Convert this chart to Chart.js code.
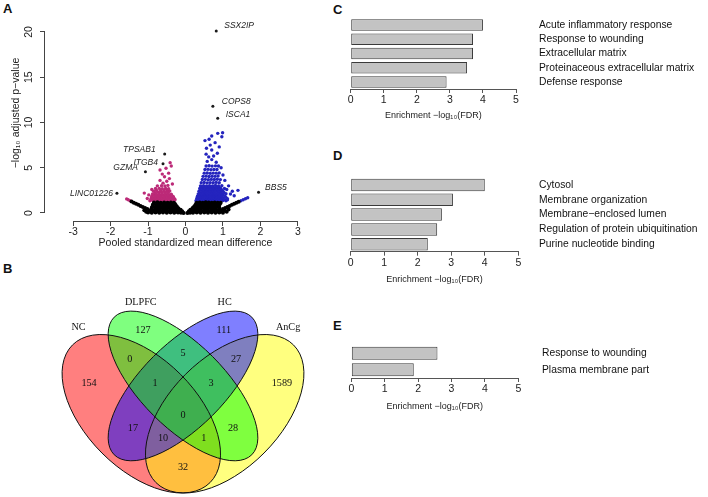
<!DOCTYPE html>
<html>
<head>
<meta charset="utf-8">
<script src="https://cdn.jsdelivr.net/npm/chart.js@4.4.1/dist/chart.umd.min.js"></script>
<style>
  body { margin: 0; background: #fff; width: 708px; height: 497px; position: relative; overflow: hidden; }
  .box { position: absolute; }
  .tag { position: absolute; font: bold 13px "Liberation Sans", Arial, sans-serif; line-height: 13px; color: #111; }
</style>
</head>
<body>
<div class="tag" style="left:3px;top:2px">A</div>
<div class="tag" style="left:3px;top:262px">B</div>
<div class="tag" style="left:333px;top:3px">C</div>
<div class="tag" style="left:333px;top:149px">D</div>
<div class="tag" style="left:333px;top:319px">E</div>

<div class="box" style="left:0;top:0"><canvas id="volcano" width="330" height="252"></canvas></div>
<div class="box" style="left:0;top:280px"><canvas id="venn" width="330" height="217"></canvas></div>
<div class="box" style="left:330px;top:0"><canvas id="goC" width="378" height="125"></canvas></div>
<div class="box" style="left:330px;top:130px"><canvas id="goD" width="378" height="160"></canvas></div>
<div class="box" style="left:330px;top:300px"><canvas id="goE" width="378" height="120"></canvas></div>

<script>
const SANS = '"Liberation Sans", Arial, sans-serif';
const SERIF = '"Liberation Serif", "Times New Roman", serif';
Chart.defaults.font.family = SANS;
Chart.defaults.color = '#222';

// ---- panel A: volcano (pooled SMD vs -log10 adjusted p) ----
const volcanoXTicks = [-3, -2, -1, 0, 1, 2, 3];
const volcanoYTicks = [0, 5, 10, 15, 20];

// not significant (black)
const nsPoints = [
  [-1.0,0.05],[-0.9,0.04],[-0.8,0.06],[-0.7,0.03],[-0.6,0.05],[-0.5,0.04],[-0.4,0.06],[-0.3,0.03],[-0.2,0.05],[-0.12,0.02],[-0.05,0.01],
  [0.05,0.01],[0.12,0.03],[0.2,0.04],[0.3,0.05],[0.4,0.03],[0.5,0.06],[0.6,0.04],[0.7,0.05],[0.8,0.03],[0.9,0.05],[1.0,0.04],
  [-0.95,0.17],[-0.85,0.18],[-0.75,0.16],[-0.65,0.17],[-0.55,0.18],[-0.45,0.16],[-0.35,0.17],[-0.08,0.09],
  [0.08,0.09],[0.35,0.17],[0.45,0.18],[0.55,0.16],[0.65,0.17],[0.75,0.18],[0.85,0.16],[0.95,0.17],
  [-0.95,0.3],[-0.86,0.28],[-0.77,0.32],[-0.68,0.27],[-0.59,0.31],[-0.5,0.29],[-0.41,0.3],[-0.32,0.28],[-0.24,0.27],[-0.16,0.25],[-0.09,0.18],
  [0.09,0.2],[0.16,0.26],[0.24,0.28],[0.32,0.3],[0.41,0.27],[0.5,0.31],[0.59,0.29],[0.68,0.3],[0.77,0.28],[0.86,0.31],[0.95,0.3],
  [-0.9,0.45],[-0.8,0.46],[-0.7,0.44],[-0.6,0.45],[-0.5,0.46],[-0.4,0.44],[-0.31,0.45],[-0.22,0.42],[-0.13,0.36],
  [0.13,0.36],[0.22,0.42],[0.31,0.45],[0.4,0.44],[0.5,0.46],[0.6,0.45],[0.7,0.44],[0.8,0.46],[0.9,0.45],
  [-0.9,0.58],[-0.81,0.62],[-0.72,0.6],[-0.63,0.57],[-0.54,0.61],[-0.45,0.59],[-0.36,0.6],[-0.27,0.58],[-0.19,0.52],
  [0.19,0.55],[0.27,0.6],[0.36,0.58],[0.45,0.62],[0.54,0.59],[0.63,0.6],[0.72,0.57],[0.81,0.61],[0.9,0.6],
  [-0.88,0.75],[-0.78,0.76],[-0.68,0.74],[-0.58,0.75],[-0.49,0.76],[-0.4,0.74],[-0.31,0.75],[-0.23,0.72],
  [0.23,0.72],[0.31,0.75],[0.4,0.74],[0.49,0.76],[0.58,0.75],[0.68,0.74],[0.78,0.76],[0.88,0.75],
  [-0.87,0.9],[-0.78,0.88],[-0.69,0.92],[-0.6,0.89],[-0.51,0.91],[-0.42,0.88],[-0.33,0.9],[-0.26,0.85],
  [0.26,0.86],[0.34,0.9],[0.42,0.88],[0.5,0.92],[0.58,0.89],[0.66,0.91],[0.74,0.88],[0.82,0.9],[0.9,0.87],
  [-0.85,1.03],[-0.75,1.04],[-0.65,1.02],[-0.55,1.03],[-0.45,1.04],[-0.36,1.02],[-0.28,1.0],
  [0.28,1.0],[0.36,1.02],[0.45,1.04],[0.55,1.03],[0.65,1.02],[0.75,1.04],[0.85,1.03],[0.92,1.02],
  [-0.84,1.15],[-0.75,1.18],[-0.66,1.13],[-0.57,1.17],[-0.48,1.14],[-0.39,1.16],[-0.31,1.12],
  [0.3,1.13],[0.38,1.17],[0.46,1.14],[0.54,1.18],[0.62,1.15],[0.7,1.13],[0.78,1.17],[0.86,1.14],[0.94,1.12],
  [-0.15,0.12],[0.15,0.1],[-0.25,0.15],[0.25,0.16],
  [-1.02,0.45],[-1.08,0.55],[-1.14,0.66],[-1.2,0.78],[-1.26,0.9],[-1.32,1.02],[-1.38,1.14],[-1.44,1.26],
  [1.0,0.45],[1.06,0.56],[1.12,0.67],[1.18,0.78],[1.24,0.9],[1.3,1.01],[1.36,1.12],[1.42,1.24],
  [1.05,0.25],[1.15,0.4],[-1.1,0.3],[-1.05,0.15],[1.1,0.15]
];

// significant, lower in cases (magenta)
const downPoints = [
  [-0.95,1.35],[-0.87,1.37],[-0.79,1.34],[-0.71,1.36],[-0.63,1.35],[-0.55,1.38],[-0.47,1.34],[-0.39,1.36],[-0.31,1.33],
  [-0.91,1.48],[-0.83,1.49],[-0.75,1.47],[-0.67,1.48],[-0.59,1.49],[-0.51,1.47],[-0.43,1.48],[-0.35,1.49],[-0.28,1.46],
  [-0.92,1.6],[-0.84,1.62],[-0.76,1.58],[-0.68,1.61],[-0.6,1.59],[-0.52,1.63],[-0.44,1.6],[-0.36,1.58],[-0.29,1.55],
  [-0.88,1.73],[-0.8,1.74],[-0.72,1.72],[-0.64,1.73],[-0.56,1.74],[-0.48,1.72],[-0.4,1.73],[-0.32,1.71],
  [-0.9,1.85],[-0.81,1.88],[-0.73,1.84],[-0.65,1.87],[-0.57,1.85],[-0.49,1.83],[-0.41,1.86],[-0.33,1.82],
  [-0.85,1.98],[-0.77,1.99],[-0.69,1.97],[-0.61,1.98],[-0.53,1.99],[-0.45,1.97],[-0.37,1.96],
  [-0.88,2.1],[-0.79,2.13],[-0.7,2.08],[-0.62,2.11],[-0.54,2.1],[-0.46,2.12],[-0.38,2.07],
  [-0.81,2.25],[-0.72,2.26],[-0.63,2.24],[-0.54,2.25],[-0.46,2.26],
  [-0.85,2.4],[-0.76,2.42],[-0.67,2.38],[-0.58,2.41],[-0.5,2.39],[-0.42,2.43],
  [-0.78,2.55],[-0.66,2.56],[-0.57,2.54],[-0.48,2.55],
  [-0.8,2.7],[-0.7,2.72],[-0.62,2.68],[-0.53,2.71],[-0.45,2.69],
  [-0.75,3.0],[-0.64,3.02],[-0.55,2.98],[-0.47,3.05],
  [-0.6,3.3],[-0.5,3.5],[-0.68,3.6],[-0.43,3.8],[-0.56,4.0],[-0.45,4.4],[-0.52,4.94],[-0.68,4.75],
  [-0.41,5.56],[-0.38,5.2],[-0.98,2.0],[-1.02,1.6],[-1.1,2.2],[-0.62,4.3],[-0.9,2.6],[-0.35,3.2],
  [-1.48,1.36],[-1.53,1.46],[-1.57,1.56]
];

// significant, higher in cases (blue)
const upPoints = [
  [0.28,1.35],[0.36,1.37],[0.44,1.34],[0.52,1.36],[0.6,1.35],[0.68,1.38],[0.76,1.34],[0.84,1.36],[0.92,1.35],[1.0,1.37],[1.08,1.34],
  [0.32,1.48],[0.4,1.49],[0.48,1.47],[0.56,1.48],[0.64,1.49],[0.72,1.47],[0.8,1.48],[0.88,1.49],[0.96,1.47],[1.04,1.48],
  [0.3,1.6],[0.38,1.62],[0.46,1.58],[0.54,1.61],[0.62,1.6],[0.7,1.63],[0.78,1.59],[0.86,1.61],[0.94,1.6],[1.02,1.62],[1.12,1.58],
  [0.34,1.73],[0.42,1.74],[0.5,1.72],[0.58,1.73],[0.66,1.74],[0.74,1.72],[0.82,1.73],[0.9,1.74],[0.98,1.72],[1.08,1.73],
  [0.32,1.85],[0.4,1.87],[0.48,1.84],[0.56,1.86],[0.64,1.85],[0.72,1.88],[0.8,1.84],[0.88,1.86],[0.96,1.85],[1.05,1.87],
  [0.36,1.98],[0.44,1.99],[0.52,1.97],[0.6,1.98],[0.68,1.99],[0.76,1.97],[0.84,1.98],[0.92,1.99],[1.0,1.97],
  [0.34,2.1],[0.42,2.12],[0.5,2.08],[0.58,2.11],[0.66,2.1],[0.74,2.13],[0.82,2.09],[0.9,2.11],[0.98,2.1],[1.08,2.12],
  [0.38,2.25],[0.46,2.26],[0.54,2.24],[0.62,2.25],[0.7,2.26],[0.78,2.24],[0.86,2.25],[0.94,2.26],[1.03,2.24],
  [0.36,2.4],[0.44,2.42],[0.52,2.38],[0.6,2.41],[0.68,2.4],[0.76,2.43],[0.84,2.39],[0.92,2.41],[1.0,2.4],
  [0.4,2.55],[0.48,2.56],[0.56,2.54],[0.64,2.55],[0.72,2.56],[0.8,2.54],[0.88,2.55],[0.96,2.56],
  [0.38,2.7],[0.46,2.72],[0.54,2.68],[0.62,2.71],[0.7,2.7],[0.78,2.73],[0.86,2.69],[0.94,2.71],[1.04,2.7],
  [0.42,2.85],[0.5,2.86],[0.58,2.84],[0.66,2.85],[0.74,2.86],[0.82,2.84],[0.9,2.85],
  [0.4,3.0],[0.48,3.02],[0.56,2.98],[0.64,3.01],[0.72,3.0],[0.8,3.03],[0.88,2.99],[0.97,3.01],
  [0.42,3.35],[0.5,3.37],[0.58,3.33],[0.66,3.36],[0.74,3.35],[0.82,3.38],[0.9,3.34],
  [0.45,3.7],[0.53,3.72],[0.61,3.68],[0.69,3.71],[0.77,3.7],[0.85,3.73],[0.93,3.69],
  [0.47,4.05],[0.55,4.07],[0.63,4.03],[0.71,4.06],[0.79,4.05],[0.87,4.08],
  [0.5,4.4],[0.58,4.42],[0.66,4.38],[0.74,4.41],[0.82,4.4],[0.9,4.43],
  [0.52,4.8],[0.6,4.82],[0.68,4.78],[0.76,4.81],[0.84,4.8],
  [0.55,5.2],[0.63,5.22],[0.71,5.18],[0.8,5.21],[0.88,5.2],
  [0.58,5.7],[0.7,5.9],[0.82,5.6],[0.62,6.2],[0.75,6.3],[0.55,6.5],[0.85,6.6],[0.7,6.96],[0.56,7.15],
  [0.79,7.77],[0.63,8.14],[0.7,8.5],[0.86,8.8],[0.99,8.87],[0.97,8.43],[0.52,8.0],[0.9,7.3],[0.66,7.5],
  [1.1,2.6],[1.15,3.0],[1.2,2.1],[1.25,2.4],[1.3,1.9],[1.4,2.5],[1.05,3.6],[1.0,4.2],[0.95,5.0],[1.12,1.45],
  [1.48,1.36],[1.54,1.47],[1.6,1.58],[1.66,1.69]
];

// labelled genes
const geneNames = ['SSX2IP', 'COPS8', 'ISCA1', 'BBS5', 'TPSAB1', 'ITGB4', 'GZMA', 'LINC01226'];
const geneX = [0.82, 0.73, 0.86, 1.95, -0.556, -0.6, -1.07, -1.83];
const geneY = [20.1, 11.8, 10.46, 2.29, 6.52, 5.45, 4.56, 2.18];

// ---- panel B: Venn ----
const vennSets = ['NC', 'DLPFC', 'HC', 'AnCg'];
// NC, DLPFC, HC, AnCg, NC&DLPFC, DLPFC&HC, HC&AnCg, NC&DLPFC&HC, DLPFC&HC&AnCg, all,
// NC&HC, DLPFC&AnCg, NC&HC&AnCg, NC&DLPFC&AnCg, NC&AnCg
const vennCounts = [154, 127, 111, 1589, 0, 5, 27, 1, 3, 0, 17, 28, 10, 1, 32];

// ---- panels C-E: enrichment ----
const termsC = ['Acute inflammatory response', 'Response to wounding', 'Extracellular matrix',
                'Proteinaceous extracellular matrix', 'Defense response'];
const fdrC = [4.0, 3.7, 3.7, 3.52, 2.9];
const termsD = ['Cytosol', 'Membrane organization', 'Membrane\u2212enclosed lumen',
                'Regulation of protein ubiquitination', 'Purine nucleotide binding'];
const fdrD = [4.0, 3.05, 2.72, 2.58, 2.3];
const termsE = ['Response to wounding', 'Plasma membrane part'];
const fdrE = [2.58, 1.87];
const enrichTicks = [0, 1, 2, 3, 4, 5];

// layout only (unit square of the Venn drawing)
const vennEllipses = [  // cx, cy, a, b, angle, fill   -- drawn in this order
  [0.35, 0.47, 0.35, 0.20,  Math.PI / 4, 'rgba(255,0,0,0.5)'],
  [0.65, 0.47, 0.35, 0.20, -Math.PI / 4, 'rgba(255,255,0,0.5)'],
  [0.50, 0.57, 0.35, 0.15, -Math.PI / 4, 'rgba(0,0,255,0.5)'],
  [0.50, 0.57, 0.35, 0.15,  Math.PI / 4, 'rgba(0,255,0,0.5)']
];
const vennCountPos = [[0.162,0.58],[0.356,0.77],[0.647,0.77],[0.856,0.58],[0.309,0.667],[0.5,0.689],[0.691,0.667],
  [0.399,0.58],[0.601,0.58],[0.5,0.465],[0.32,0.419],[0.68,0.419],[0.428,0.38],[0.575,0.38],[0.5,0.279]];
const vennNamePos = [[0.124,0.782],[0.348,0.87],[0.65,0.87],[0.878,0.78]];

const rAxis = {
  id: 'rAxis',
  afterDraw(chart, args, o) {
    const {ctx, chartArea} = chart;
    const xs = chart.scales.x, ys = chart.scales.y;
    const xt = xs.ticks, yt = ys.ticks;
    ctx.save();
    ctx.strokeStyle = o.color;
    ctx.lineWidth = 1;
    ctx.beginPath();
    const yb = Math.round(chartArea.bottom) + 0.5;
    ctx.moveTo(xs.getPixelForValue(xt[0].value), yb);
    ctx.lineTo(xs.getPixelForValue(xt[xt.length - 1].value), yb);
    const xl = Math.round(chartArea.left) - 0.5;
    ctx.moveTo(xl, ys.getPixelForValue(yt[0].value));
    ctx.lineTo(xl, ys.getPixelForValue(yt[yt.length - 1].value));
    ctx.stroke();
    // R style vertical tick labels
    ctx.fillStyle = '#222';
    ctx.font = '10.5px ' + SANS;
    ctx.textAlign = 'center';
    ctx.textBaseline = 'middle';
    yt.forEach(t => {
      ctx.save();
      ctx.translate(o.yLabelX, ys.getPixelForValue(t.value));
      ctx.rotate(-Math.PI / 2);
      ctx.fillText(String(t.value), 0, 0);
      ctx.restore();
    });
    ctx.restore();
  }
};

const geneTags = {
  id: 'geneTags',
  afterDatasetsDraw(chart, args, o) {
    const {ctx} = chart;
    const xs = chart.scales.x, ys = chart.scales.y;
    ctx.save();
    ctx.font = 'italic 8.5px ' + SANS;
    ctx.fillStyle = '#222';
    ctx.textBaseline = 'middle';
    geneNames.forEach((g, i) => {
      const [dx, dy, al] = o.offsets[i];
      ctx.textAlign = al;
      ctx.fillText(g, xs.getPixelForValue(geneX[i]) + dx, ys.getPixelForValue(geneY[i]) + dy);
    });
    ctx.restore();
  }
};

const pts = arr => arr.map(([x, y]) => ({x, y}));

new Chart(document.getElementById('volcano'), {
  type: 'scatter',
  data: {
    datasets: [
      {data: pts(nsPoints), backgroundColor: '#000', pointRadius: 2},
      {data: pts(downPoints), backgroundColor: '#BC2A78', pointRadius: 1.7},
      {data: pts(upPoints), backgroundColor: '#2424BE', pointRadius: 1.7},
      {data: geneX.map((x, i) => ({x, y: geneY[i]})), backgroundColor: '#1a1a1a', pointRadius: 1.5}
    ]
  },
  options: {
    responsive: false,
    animation: false,
    elements: {point: {borderWidth: 0}},
    layout: {padding: {top: 5, right: 3.2, left: 0, bottom: 0}},
    plugins: {
      legend: {display: false},
      tooltip: {enabled: false},
      rAxis: {color: '#444', yLabelX: 29.5},
      geneTags: {offsets: [[8, -5, 'left'], [9, -5, 'left'], [8, -4, 'left'], [6.5, -4.5, 'left'],
                           [-9, -4.7, 'right'], [-5, -1.5, 'right'], [-7.5, -4.4, 'right'], [-4, 0, 'right']]}
    },
    scales: {
      x: {
        type: 'linear', min: -3.75, max: 3.75,
        afterBuildTicks: s => { s.ticks = volcanoXTicks.map(v => ({value: v})); },
        afterFit: s => { s.height = 31; },
        border: {display: false},
        grid: {drawOnChartArea: false, tickLength: 5, color: '#444'},
        ticks: {padding: 0, font: {size: 10.5}, color: '#222', maxRotation: 0},
        title: {display: true, text: 'Pooled standardized mean difference', font: {size: 10.5},
                color: '#222', padding: {top: 0, bottom: 3}}
      },
      y: {
        type: 'linear', min: -0.884, max: 22.98,
        afterBuildTicks: s => { s.ticks = volcanoYTicks.map(v => ({value: v})); },
        afterFit: s => { s.width = 45; },
        border: {display: false},
        grid: {drawOnChartArea: false, tickLength: 5, color: '#444'},
        ticks: {display: false},
        title: {display: true, text: '\u2212log\u2081\u2080 adjusted p\u2212value', font: {size: 10.5},
                color: '#222', padding: {top: 10, bottom: 0}}
      }
    }
  },
  plugins: [rAxis, geneTags]
});

// ---- Venn ----
const vennDraw = {
  id: 'vennDraw',
  beforeDatasetsDraw(chart) {
    const {ctx} = chart;
    const xs = chart.scales.x, ys = chart.scales.y;
    const k = xs.getPixelForValue(1) - xs.getPixelForValue(0);
    ctx.save();
    vennEllipses.forEach(([cx, cy, a, b, rot, fill]) => {
      ctx.beginPath();
      ctx.ellipse(xs.getPixelForValue(cx), ys.getPixelForValue(cy), a * k, b * k, rot, 0, Math.PI * 2);
      ctx.fillStyle = fill;
      ctx.fill();
    });
    ctx.strokeStyle = '#111';
    ctx.lineWidth = 1;
    vennEllipses.forEach(([cx, cy, a, b, rot]) => {
      ctx.beginPath();
      ctx.ellipse(xs.getPixelForValue(cx), ys.getPixelForValue(cy), a * k, b * k, rot, 0, Math.PI * 2);
      ctx.stroke();
    });
    ctx.restore();
  },
  afterDatasetsDraw(chart) {
    const {ctx} = chart;
    ctx.save();
    ctx.font = '10.2px ' + SERIF;
    ctx.fillStyle = '#111';
    ctx.textAlign = 'center';
    ctx.textBaseline = 'middle';
    chart.getDatasetMeta(0).data.forEach((el, i) => ctx.fillText(String(vennCounts[i]), el.x, el.y));
    chart.getDatasetMeta(1).data.forEach((el, i) => ctx.fillText(vennSets[i], el.x, el.y));
    ctx.restore();
  }
};

new Chart(document.getElementById('venn'), {
  type: 'scatter',
  data: {
    datasets: [
      {data: pts(vennCountPos), pointRadius: 0},
      {data: pts(vennNamePos), pointRadius: 0}
    ]
  },
  options: {
    responsive: false,
    animation: false,
    layout: {padding: 0},
    plugins: {legend: {display: false}, tooltip: {enabled: false}},
    scales: {
      x: {type: 'linear', min: -0.1583, max: 1.0288, display: false},
      y: {type: 'linear', min: 0.1705, max: 0.9511, display: false}
    }
  },
  plugins: [vennDraw]
});

// ---- enrichment bars ----
function enrichChart(id, terms, values, lay) {
  return new Chart(document.getElementById(id), {
    type: 'bar',
    data: {
      labels: terms,
      datasets: [{
        data: values,
        backgroundColor: '#C3C3C3',
        borderColor: '#3a3a3a',
        borderWidth: 1,
        borderSkipped: false,
        barPercentage: lay.bar,
        categoryPercentage: 1
      }]
    },
    options: {
      indexAxis: 'y',
      responsive: false,
      animation: false,
      layout: {padding: {left: lay.left, top: lay.top, right: 0, bottom: 0}},
      plugins: {legend: {display: false}, tooltip: {enabled: false}},
      scales: {
        x: {
          min: 0, max: 5,
          afterBuildTicks: s => { s.ticks = enrichTicks.map(v => ({value: v})); },
          afterFit: s => { s.height = lay.xh; },
          border: {display: true, color: '#555'},
          grid: {drawOnChartArea: false, tickLength: 4, color: '#555'},
          ticks: {padding: 1, font: {size: 10.5}, color: '#222', maxRotation: 0},
          title: {display: true, text: 'Enrichment \u2212log\u2081\u2080(FDR)', font: {size: 9},
                  color: '#222', padding: {top: 0, bottom: lay.tb}}
        },
        y: {
          position: 'right',
          afterFit: s => { s.width = lay.yw; s.paddingTop = 0; s.paddingBottom = 0; },
          border: {display: false},
          grid: {display: false, drawTicks: false},
          ticks: {padding: lay.lp, font: {size: 10.3}, color: '#111', autoSkip: false}
        }
      }
    }
  });
}

enrichChart('goC', termsC, fdrC, {left: 20.7, top: 18, xh: 36, yw: 192, lp: 23, bar: 0.81, tb: 4.5});
enrichChart('goD', termsD, fdrD, {left: 20.7, top: 47.5, xh: 38.3, yw: 189.7, lp: 20.7, bar: 0.84, tb: 5.5});
enrichChart('goE', termsE, fdrE, {left: 21.3, top: 45, xh: 42, yw: 189.7, lp: 23.7, bar: 0.8, tb: 8.5});
</script>
</body>
</html>
